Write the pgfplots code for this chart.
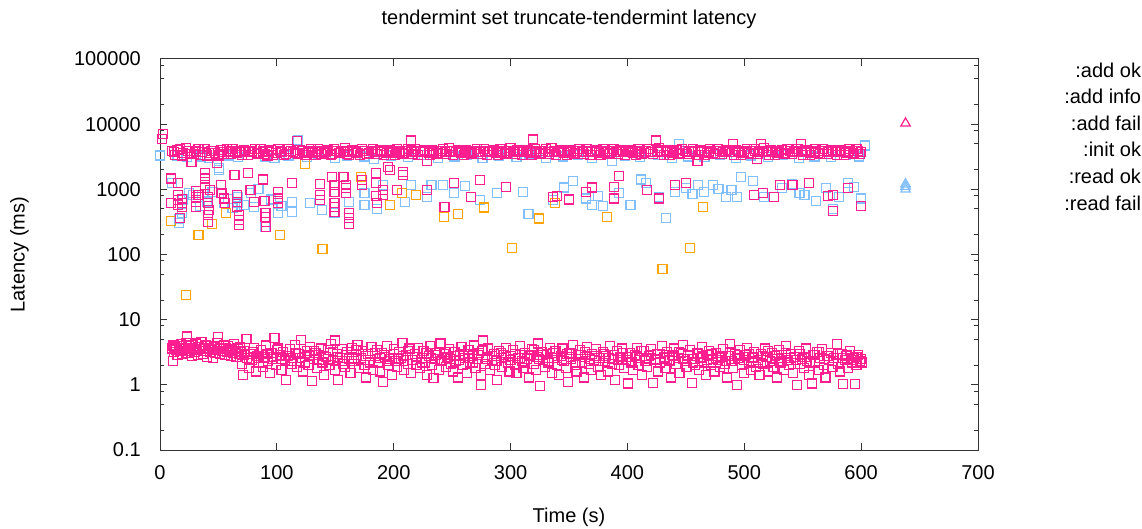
\documentclass[border=0pt]{standalone}
\usepackage{fontspec}
\setmainfont{Liberation Sans}
\usepackage{pgfplots}
\pgfplotsset{compat=1.18}
\definecolor{cfail}{HTML}{FF1E90}
\definecolor{cok}{HTML}{81BFFC}
\definecolor{cinfo}{HTML}{FFA400}
\newcommand{\lblfont}{\fontsize{20bp}{24bp}\selectfont}
\pgfplotsset{
 okpts/.style={draw=cok, mark options={draw=cok, solid, line width=1.2bp}},
 infopts/.style={draw=cinfo, mark options={draw=cinfo, solid, line width=1.2bp}},
 failpts/.style={draw=cfail, mark options={draw=cfail, solid, line width=1.2bp}},
}

\begin{document}
\begin{tikzpicture}
\useasboundingbox (0,0) rectangle (1142bp,529bp);
\begin{axis}[
 at={(160bp,79bp)}, anchor=south west,
 scale only axis, width=818bp, height=391bp,
 xmin=0, xmax=700, ymode=log, ymin=0.1, ymax=100000,
 xtick={0,100,...,700}, xticklabels={0,100,200,300,400,500,600,700},
 ytick={0.1,1,10,100,1000,10000,100000},
 yticklabels={0.1,1,10,100,1000,10000,100000},
 minor ytick={0.2,0.5,0.8,2,5,8,20,50,80,200,500,800,2000,5000,8000,20000,50000,80000},
 tick align=inside, major tick length=7bp, minor tick length=4bp,
 axis line style={black!80, line width=1bp},
 tick style={black!80, line width=1bp},
 font=\lblfont,
 yticklabel style={inner sep=0pt, anchor=east, xshift=-19bp},
 xticklabel style={inner sep=0pt, anchor=north, yshift=-15bp},
 title={tendermint set truncate-tendermint latency},
 title style={at={(axis description cs:0.5,1.0740)}, anchor=base, inner sep=0pt},
 xlabel={Time (s)},
 xlabel style={at={(axis description cs:0.5,-0.1850)}, anchor=base, inner sep=0pt},
 ylabel={Latency (ms)},
 ylabel style={at={(axis description cs:-0.1656,0.5)}, anchor=base, rotate=0, inner sep=0pt},
 legend style={at={(axis description cs:1.1993,0.992)}, anchor=north east,
   draw=none, fill=none, inner sep=0pt, outer sep=0pt, row sep=6.6bp,
   nodes={inner sep=0pt, text height=15bp, text depth=5bp, font=\lblfont}},
 legend cell align=right,
 only marks,
 every axis plot/.append style={mark=square, mark size=4.5bp},
]
% :read ok (blue, upper band)
\addplot[okpts, forget plot] coordinates {
(0,3300)(15,3300)(23,3100)(31,3500)(35,3200)(42,3000)(50.5,2130)(58,3300)(67,3100)(75,3400)
(90,3200)(98,3000)(110,3300)(117.8,5700)(126,3100)(135,3500)(150,3000)(160,3300)(175,3200)(183,2900)
(198,3300)(212,3100)(226,3400)(238,3000)(252,3200)(263,3400)(276,3000)(290,3300)(305,3100)(316,3500)
(330,3000)(345,3200)(358,3400)(370,3000)(387,2750)(398,3300)(411,3100)(426,3400)(438,3000)(444,5000)
(452,3200)(466,3100)(479,3400)(493,3000)(506,3300)(520,3100)(533,3400)(547,3000)(560,3200)(574,3100)
(587,3400)(598,3200)(603,4700)};
% :add ok (blue, middle band)
\addplot[okpts, forget plot] coordinates {
(10,1236)(16,301)(16,346)(19,429)(20,700)(25,870)(28,820)(34,560)(40,650)(45,900)(50.7,1980)(54.6,610)
(58,720)(62,520)(66.5,771)(66.5,610)(72,580)(78,880)(80.3,542)(84.3,1000)(90.2,267)(95,700)(101,429)
(104,560)(112.7,645)(112.7,454)(128.5,610)(138.4,482)(149.4,429)(162,645)(175,575)(175,867)(185.8,493)
(191,1165)(209.5,645)(214.6,1165)(228.4,771)(232.4,1165)(242.3,1165)(251.3,867)(261.2,1130)(273.9,686)
(288.5,867)(310.6,916)(315.3,418)(336,686)(345.8,1070)(353.7,1350)(364.7,725)(369.9,575)(374.6,790)
(379.3,555)(393,890)(402.6,582)(411.3,1420)(416,1236)(427,771)(432.7,359)(440.9,900)(450.3,1036)
(455.6,838)(460.3,1165)(465.4,916)(473.3,1165)(478,1012)(484.4,771)(489,977)(493.9,771)(497,1528)
(507.7,1343)(516.8,771)(532.6,1036)(540.5,1200)(547.2,867)(551.5,818)(561.4,670)(570,1036)(576,493)
(580.8,771)(588.7,1260)(594,1100)(600,725)};
% :add info (orange)
\addplot[infopts, forget plot] coordinates {
(9.2,327)(22.3,24)(33,197)(44.8,295)(56.6,438)(103,197)(112,3870)(124,2450)(139,121)(171.7,1563)
(196.5,575)(207,869)(219,815)(243,372)(254.7,413)(277,525)(301,127)(324,358)(338,610)(382.8,372)
(430,60)(453.8,127)(464.7,530)};
% :add fail (pink, middle band)
\addplot[failpts, forget plot] coordinates {
(9.2,1470)(9.2,610)(15.1,1260)(15.1,818)(15.1,686)(15.1,575)(17.1,359)(19,720)(19,610)(19,540)
(31,940)(31,771)(31,645)(31,540)(33,830)(38.8,1760)(38.8,1470)(38.8,1165)(38.8,1036)(41,771)(41,610)
(42,482)(41,404)(41,318)(42.8,977)(51.9,1165)(52.7,867)(54.6,725)(55.4,610)(63.7,1660)(66,830)(66,645)
(66,530)(67.7,404)(67.7,339)(67.7,283)(75.6,1800)(77.5,977)(80.3,645)(88.2,1420)(89.5,660)(90.2,429)
(90.2,372)(91,318)(91,267)(101.3,920)(101.3,725)(101.3,610)(112.7,1260)(136.8,1210)(136.8,830)
(136.8,686)(147.5,1560)(149.4,1165)(149.4,920)(149.4,610)(149.4,530)(149.4,454)(157,1560)(159,1165)
(159,1036)(159,867)(162,429)(162,359)(162,294)(173,1390)(173,1165)(185,1800)(185,1236)(185,790)
(185.8,610)(191,977)(191,830)(197,1980)(208,1860)(208,1660)(203,977)(228.4,977)(243.5,540)(251.3,1236)
(266,771)(273.9,1390)(296.4,1100)(336,771)(340,790)(350,700)(364.7,920)(369.9,1070)(388.4,1100)
(388.4,725)(393,1590)(417,977)(426.8,725)(440.9,1165)(450.3,1260)(508,830)(516,867)(525.5,760)
(530.6,1165)(541.3,1165)(555.5,1236)(571.4,790)(576,830)(576,460)(588.7,1036)(599.7,555)};
% :add fail (pink, upper band)
\addplot[failpts, forget plot] coordinates {
(2,6000)(2.5,7000)(10,3900)(13,3400)(17,4100)(20,3600)(24,3900)(27,2640)(29,3500)(33,4200)(36,3700)
(40,3300)(44,3900)(47,3600)(48.5,2500)(52,4000)(55,3500)(59,3800)(62,4100)(66,3600)(70,3400)(73,3900)
(77,3700)(81,4200)(84,3500)(88,3800)(92,3300)(95,4000)(99,3600)(103,3900)(106,3400)(110,4100)(114,3700)
(117,5500)(118,3500)(122,3900)(125,3600)(129,4200)(133,3400)(136,3800)(140,3600)(144,4000)(147,3500)
(151,3900)(155,3700)(158,4300)(162,3400)(166,3800)(169,3600)(173,4100)(177,3500)(181,3900)(184,3700)
(188,4000)(192,3400)(195,2200)(196,3800)(199,3600)(203,4100)(207,3500)(210,3900)(214.5,5600)(215,3700)
(218,4200)(221,3400)(225,3800)(228.7,2750)(230,3600)(233,4000)(236,3500)(240,3900)(244,3700)(247,4300)
(251,3400)(255,3800)(258,3600)(262,4000)(266,3500)(269,3900)(273,3700)(277,4100)(280,3400)(284,3800)
(288,3600)(291,4200)(295,3500)(299,3900)(302,3700)(306,4000)(310,3400)(313,3800)(317,3600)(319,5800)
(321,4100)(324,3500)(328,3900)(332,3700)(335,4300)(339,3400)(343,3800)(346,3600)(350,4000)(354,3500)
(357,3900)(361,3700)(365,4100)(368,3400)(372,3800)(376,3600)(379,4200)(383,3500)(387,3900)(390,3700)
(394,4000)(398,3400)(401,3800)(405,3600)(409,4100)(412,3500)(416,3900)(420,3700)(424.4,5600)(427,4300)
(431,3400)(434,3800)(438,3600)(442,4000)(445,3500)(449,3900)(453,3700)(456,4100)(460,2750)(461,3400)
(464,3800)(468,3600)(471,4200)(475,3500)(479,3900)(482,3700)(486,4000)(490.6,4960)(491,3400)(495,3800)
(498,3600)(502,4100)(506,3500)(509,3900)(511,2900)(513,3700)(514.6,5000)(517,4300)(521,3400)(524,3800)
(528,3600)(532,4000)(535,3500)(539,3900)(543,3700)(546,4100)(548.8,5000)(550,3400)(554,3800)(557,3600)
(561,4200)(565,3500)(568,3900)(572,3700)(576,4000)(579,3400)(583,3800)(587,3600)(590,4100)(594,3500)
(597,3900)(600,3700)
(12,3700)(15,4000)(19,3300)(22,4300)(26,3500)(31,3800)(34,3400)(38,4100)(42,3600)(46,3900)(50,3300)
(53,3700)(57,4200)(61,3500)(64,3900)(68,3700)(72,4000)(75,3400)(79,3800)(83,3600)(86,4100)(90,3500)
(93,3800)(97,3400)(101,4200)(104,3700)(108,3500)(112,3900)(116,3600)(120,4000)(124,3400)(127,3800)
(131,3600)(135,4100)(138,3500)(142,3800)(146,3400)(149,4200)(153,3600)(157,3800)(160,3500)(164,4000)
(168,3700)(171,3400)(175,3900)(179,3600)(182,4200)(186,3500)(190,3800)(194,3600)(197,4000)(201,3400)
(205,3800)(208,3600)(212,4100)(216,3500)(219,3900)(223,3700)(227,4000)(231,3400)(234,3800)(238,3600)
(242,4200)(245,3500)(249,3900)(253,3700)(256,4000)(260,3400)(264,3800)(267,3600)(271,4100)(275,3500)
(278,3900)(282,3700)(286,4000)(289,3400)(293,3800)(297,3600)(300,4300)(304,3500)(308,3900)(311,3700)
(315,4000)(318,3400)(322,3800)(326,3600)(330,4100)(333,3500)(337,3900)(341,3700)(344,4000)(348,3400)
(352,3800)(355,3600)(359,4200)(363,3500)(366,3900)(370,3700)(374,4000)(377,3400)(381,3800)(385,3600)
(388,4100)(392,3500)(396,3900)(399,3700)(403,4000)(407,3400)(410,3800)(414,3600)(418,4200)(422,3500)
(425,3900)(429,3700)(433,4000)(436,3400)(440,3800)(444,3600)(447,4100)(451,3500)(455,3900)(458,3700)
(462,4000)(466,3400)(470,3800)(473,3600)(477,4200)(481,3500)(484,3900)(488,3700)(493,4000)(497,3400)
(500,3800)(504,3600)(508,4100)(512,3500)(515,3900)(519,3700)(523,4000)(526,3400)(530,3800)(534,3600)
(537,4200)(541,3500)(545,3900)(549,3700)(552,4000)(556,3400)(560,3800)(563,3600)(567,4100)(571,3500)
(574,3900)(578,3700)(582,4000)(585,3400)(589,3800)(593,3600)(596,4200)(599,3500)};
% :read fail (pink, lower band)
\addplot[failpts, forget plot] coordinates {
(10,3.6)(10.8,2.3)(11.5,4.0)(12.3,3.2)(13,3.8)(14,3.4)(15,2.9)(16,3.9)(17,3.3)(18,4.2)(19,3.0)(20,3.7)
(21,3.5)(22,4.4)(22.8,5.5)(23.5,3.1)(24.5,3.9)(25.5,3.3)(26.5,4.1)(27.5,2.8)(28.5,3.6)(29.5,3.2)
(30.5,4.3)(31.5,3.4)(32.5,2.9)(33.5,3.8)(34.5,3.5)(35.5,4.6)(36.5,3.0)(37.5,3.7)(38.5,3.3)(39.5,4.0)
(40.5,2.7)(41.5,3.6)(42.5,3.2)(43.5,3.9)(44.5,3.4)(45.5,2.6)(46.5,3.8)(47.5,3.1)(48.5,4.4)(49.6,5.4)
(50.5,3.5)(51.5,3.0)(52.5,3.7)(53.5,3.3)(54.5,4.1)(55.5,2.9)(56.5,3.6)(57.5,3.2)(58.5,3.9)(59.5,3.4)
(60.5,2.8)(61.5,3.5)(62.5,3.1)(63.5,4.2)(64.5,3.3)(65.5,2.7)(66.5,3.6)(67.5,3.0)(68.5,3.8)(69.5,3.2)
(70.5,2.1)(71,1.42)(72.5,3.3)(74,5.0)(74.5,2.6)(76,1.8)(77.5,3.0)(79,2.4)(80.5,3.7)(82,1.6)(83.5,2.8)
(85,2.2)(86.5,3.4)(88,1.9)(89.5,2.7)(91,4.0)(92.5,2.3)(94,1.5)(95.5,3.1)(97,2.5)(98,5.2)(99.5,2.0)
(101,3.6)(102.5,2.9)(104,1.7)(105.5,3.2)(107,2.4)(108,1.18)(109.5,2.8)
(111,3.5)(112.5,2.1)(114,2.6)(115.5,4.1)(117,1.9)(118.5,3.0)(120,2.3)(121,4.9)(122.5,1.6)(124,2.7)
(125.5,3.3)(127,2.0)(128.5,3.8)(130,1.15)(131.5,2.5)(133,3.1)(134.5,1.8)(136,2.9)(137.5,3.6)(139,2.2)
(140.5,1.4)(142,2.7)(143.5,3.4)(145,2.0)(146.5,4.2)(148,2.4)(149.5,1.7)(150,4.8)(151.5,3.0)(152.6,1.18)
(154,2.6)(155.5,3.5)(157,2.1)(158.5,1.9)(160,3.2)
(161.5,2.5)(163,1.5)(164.5,3.7)(166,2.3)(167.5,2.9)(169,4.1)(170.5,1.8)(172,2.6)(173.5,3.3)(175,2.0)
(176.5,1.3)(178,3.0)(179.5,2.4)(181,3.8)(182.5,1.7)(184,2.8)(185.5,3.4)(187,2.2)(188.5,1.6)(190,3.1)
(191,1.1)(192.5,2.7)(194,3.9)(195.5,2.0)(197,2.5)(198.5,1.4)(200,3.5)(201.5,2.3)(203,1.9)(204.5,3.2)
(206,2.6)(207.5,4.4)(209,1.7)(210.5,2.9)(212,2.1)(213.5,3.6)(215,1.5)(216.5,2.4)(218,3.0)(219.5,2.0)
(221,3.7)(222.5,1.8)(224,2.6)(225.5,3.3)(227,2.2)(228.5,1.4)(230,2.8)(231.5,3.9)(233,2.0)(234,1.26)
(235.5,2.5)(237,3.1)(238.5,1.7)(240,4.3)(241.5,2.4)(243,3.0)(244.5,1.9)(246,2.7)(247.5,3.5)(249,2.1)
(250.5,1.6)(252,3.2)(253.5,2.3)(255,1.3)(256.5,2.9)(258,3.8)(259.5,2.0)(261,2.6)(262.5,1.5)(264,3.4)
(265.5,2.2)(267,2.8)(268.5,4.0)(270,1.8)(271.5,2.5)(273,3.1)(274.5,1.4)(275,1.0)(276.7,4.8)(278,2.1)
(279.5,2.7)(281,3.6)(282.5,1.7)(284,2.4)(285.5,3.0)(287,2.0)(288.5,1.2)(290,3.3)(291.5,2.6)(293,1.9)
(294.5,2.9)(296,3.7)(297.5,2.2)(299,1.6)
(300.5,2.8)(302,3.4)(303.5,2.0)(305,1.5)(306.5,2.6)(308,3.9)(309.5,2.3)(311,1.8)(312.5,3.1)(314,2.5)
(315.5,1.3)(317,2.9)(318.5,3.5)(320,2.1)(321.5,1.7)(323,2.7)(323.7,4.3)(325,0.95)(326.5,3.2)(328,2.4)
(329.5,1.9)(331,3.0)(332.5,2.2)(334,3.7)(335.5,1.5)(337,2.6)(338.5,3.3)(340,2.0)(341.5,1.4)(343,2.8)
(344.5,3.6)(346,2.3)(347.5,1.8)(349,1.1)(350.5,3.1)(352,2.5)(353.5,4.1)(355,2.0)(356.5,1.6)(358,2.9)
(359.5,3.4)(361,2.2)(362.5,1.3)(364,2.7)(365.5,3.8)(367,2.1)(368.5,1.7)(370,3.0)(371.5,2.4)(373,3.5)
(374.5,1.9)(376,2.6)(377.5,1.4)(379,3.2)(380.5,2.3)(382,2.8)(383.5,1.6)(385,3.9)(386.5,2.1)(388,2.5)
(389.5,1.2)(391,3.3)(392.5,2.0)(394,2.7)(395.5,3.6)(397,1.8)(398.5,2.4)(400.8,1.05)
(402,3.1)(403.5,2.2)(405,1.7)(406.5,2.9)(408,3.7)(409.5,2.0)(411,2.6)(412.5,1.4)(414,3.3)(415.5,2.3)
(417,1.9)(418.5,2.8)(420,3.5)(422,1.08)(423.5,2.5)(425,3.0)(426.5,1.6)(428,2.2)(429.5,3.9)(431,2.7)
(432.5,1.8)(434,3.2)(435.5,2.4)(437,1.3)(438.5,2.9)(440,3.6)(441.5,2.1)(443,2.6)(444.5,1.5)(446,3.1)
(447.8,4.1)(449,2.3)(450.5,1.9)(452,2.8)(453.5,3.4)(455,1.08)(456.5,2.5)(458,2.0)(459.5,3.0)(461,1.7)
(462.5,2.6)(464,3.8)(465.5,2.2)(467,1.4)(468.5,2.9)(470,3.3)(471.5,2.0)(473,2.5)(474.5,1.6)(476,3.1)
(477.5,2.4)(479,1.9)(480.5,2.7)(482,3.5)(483.5,2.1)(485,1.3)(486.5,2.8)(487.8,4.2)(489,2.3)(490.5,1.8)
(492,3.0)(493.5,1.0)(495,2.6)(496.5,3.4)(498,2.0)(499.5,1.5)
(501,2.9)(502.5,3.7)(504,2.2)(505.5,1.7)(507,2.6)(508.5,3.2)(510,1.9)(511.5,2.4)(513,1.4)(514.5,3.0)
(516,2.1)(517.5,3.6)(519,2.7)(520.5,1.6)(522,2.3)(523.5,3.1)(525,1.9)(526.5,2.8)(528,1.3)(529.5,3.4)
(531,2.2)(532.5,2.6)(534,1.7)(535.5,3.9)(537,2.4)(538.5,2.0)(540,3.0)(541.5,1.5)(543,2.7)(545,1.0)
(546.5,3.3)(548,2.1)(549.5,2.5)(551,1.8)(552.5,3.6)(554,2.3)(555.5,1.4)(557.7,1.05)(559,2.9)(560.5,2.2)
(562,3.2)(563.5,1.7)(565,2.6)(566.5,3.5)(568,2.0)(569.5,1.3)(571,2.8)(572.5,2.4)(574,3.1)(575.5,1.9)
(577,2.6)(579,4.2)(580.5,2.1)(582,1.6)(583.5,3.0)(584.7,1.03)(586,2.4)(587.5,2.8)(589,1.8)(590.5,3.3)
(592,2.2)(593.5,2.6)(594.7,1.03)(596,2.0)(597.5,2.9)(599,2.3)(600,2.5)(600.5,2.2)
(72,2.9)(76,2.4)(80,3.2)(84,2.6)(88,2.2)(92,3.0)(96,2.7)(100,3.4)(104,2.5)(108,2.8)(112,2.3)(116,3.1)
(120,2.6)(124,2.2)(128,2.9)(132,3.3)(136,2.4)(140,2.8)(144,2.5)(148,3.2)(152,2.7)(156,2.3)(160,2.9)
(164,2.6)(168,3.4)(172,2.4)(176,2.8)(180,2.2)(184,3.1)(188,2.6)(192,2.9)(196,2.3)(200,3.0)(204,2.5)
(208,2.8)(212,3.3)(216,2.4)(220,2.7)(224,2.2)(228,3.1)(232,2.6)(236,2.9)(240,2.3)(244,3.2)(248,2.5)
(252,2.8)(256,2.4)(260,3.0)(264,2.6)(268,2.2)(272,2.9)(276,3.3)(280,2.5)(284,2.8)(288,2.3)(292,3.1)
(296,2.7)(300,2.4)(304,3.0)(308,2.6)(312,2.2)(316,2.8)(320,3.4)(324,2.5)(328,2.9)(332,2.3)(336,3.1)
(340,2.6)(344,2.4)(348,3.0)(352,2.7)(356,2.2)(360,2.9)(364,3.2)(368,2.5)(372,2.8)(376,2.3)(380,3.0)
(384,2.6)(388,2.9)(392,2.4)(396,3.1)(400,2.7)(404,2.2)(408,2.8)(412,3.3)(416,2.5)(420,2.9)(424,2.4)
(428,3.0)(432,2.6)(436,2.3)(440,2.8)(444,3.2)(448,2.5)(452,2.9)(456,2.2)(460,3.1)(464,2.7)(468,2.4)
(472,3.0)(476,2.6)(480,2.8)(484,2.3)(488,3.2)(492,2.5)(496,2.9)(500,2.4)(504,3.0)(508,2.7)(512,2.2)
(516,2.8)(520,3.3)(524,2.5)(528,2.9)(532,2.3)(536,3.1)(540,2.6)(544,2.4)(548,3.0)(552,2.7)(556,2.2)
(560,2.9)(564,3.2)(568,2.5)(572,2.8)(576,2.3)(580,3.0)(584,2.6)(588,2.9)(592,2.4)(596,2.7)};
% :init ok (blue triangles) and one pink triangle
\addplot[okpts, forget plot, mark=triangle, mark size=5.5bp] coordinates {(638,1000)(638,1100)(638,1200)};
\addplot[failpts, forget plot, mark=triangle, mark size=5.5bp] coordinates {(638,10300)};
\addlegendimage{empty legend}\addlegendentry{:add ok}
\addlegendimage{empty legend}\addlegendentry{:add info}
\addlegendimage{empty legend}\addlegendentry{:add fail}
\addlegendimage{empty legend}\addlegendentry{:init ok}
\addlegendimage{empty legend}\addlegendentry{:read ok}
\addlegendimage{empty legend}\addlegendentry{:read fail}
\end{axis}
\end{tikzpicture}
\end{document}
